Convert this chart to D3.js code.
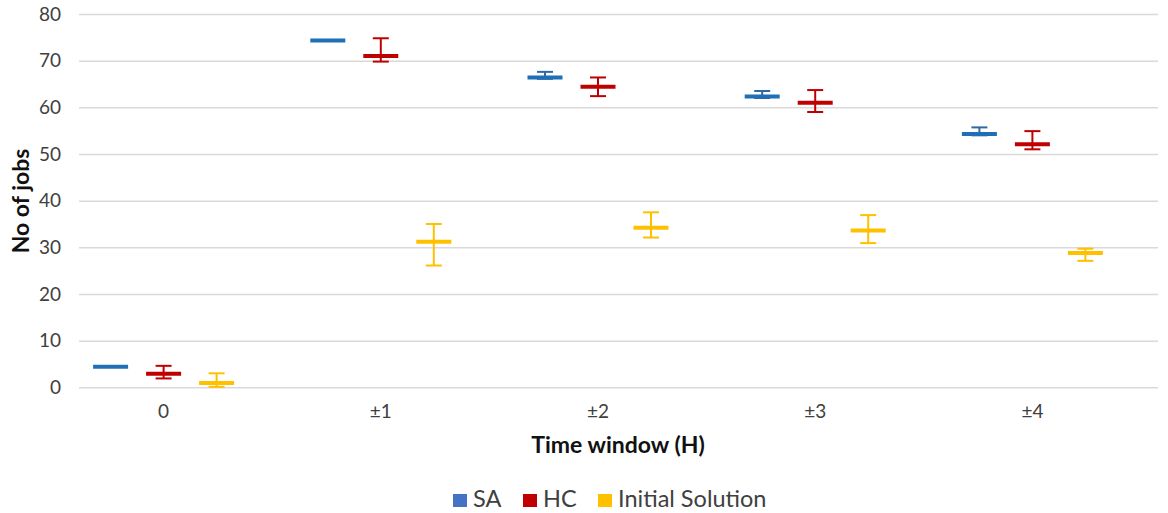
<!DOCTYPE html>
<html>
<head>
<meta charset="utf-8">
<script src="https://cdn.jsdelivr.net/npm/d3@7"></script>
<style>
  html, body { margin: 0; padding: 0; background: #fff; }
  svg { display: block; font-family: Lato, "Open Sans", sans-serif; }
</style>
</head>
<body>
<svg id="chart" width="1168" height="513"></svg>
<script>
// Time windows on the x axis
const categories = ["0", "±1", "±2", "±3", "±4"];
const seriesNames = ["SA", "HC", "Initial Solution"];
const yTicks = [0, 10, 20, 30, 40, 50, 60, 70, 80];

// Number of scheduled jobs: mean with upper / lower whisker ends
const saMean = [4.4, 74.3, 66.4, 62.3, 54.3];
const saHigh = [4.4, 74.3, 67.6, 63.5, 55.7];
const saLow  = [4.4, 74.3, 66.1, 62.0, 54.0];

const hcMean = [2.9, 71.0, 64.4, 61.0, 52.1];
const hcHigh = [4.6, 74.8, 66.4, 63.7, 54.9];
const hcLow  = [1.9, 69.8, 62.4, 59.0, 51.0];

const isMean = [0.9, 31.2, 34.2, 33.6, 28.8];
const isHigh = [3.0, 35.0, 37.5, 36.9, 29.7];
const isLow  = [0.1, 26.1, 32.1, 30.9, 27.1];

const markColors  = { "SA": "#1f6fb7", "HC": "#c00000", "Initial Solution": "#ffc000" };
const whiskColors = { "SA": "#2e6aa3", "HC": "#c00000", "Initial Solution": "#ffc000" };
const legendColors = { "SA": "#4472c4", "HC": "#c00000", "Initial Solution": "#ffc000" };

const seriesData = [
  { name: "SA", mean: saMean, high: saHigh, low: saLow },
  { name: "HC", mean: hcMean, high: hcHigh, low: hcLow },
  { name: "Initial Solution", mean: isMean, high: isHigh, low: isLow }
];

const svg = d3.select("#chart");

const gridLeft = 79, gridRight = 1158;

const x = d3.scaleBand().domain(categories).range([55, 1141]).padding(0);
const sub = d3.scalePoint().domain(seriesNames).range([-53, 53]);
const y = d3.scaleLinear().domain([0, 80]).range([387.3, 14]);

// Horizontal gridlines and value labels
const yAxis = svg.append("g")
  .attr("transform", `translate(${gridLeft},0)`)
  .call(d3.axisLeft(y).tickValues(yTicks).tickSize(-(gridRight - gridLeft)).tickPadding(18).tickFormat(d3.format("d")));
yAxis.select(".domain").remove();
yAxis.selectAll(".tick line").attr("stroke", "#d9d9d9").attr("stroke-width", 1.5);
yAxis.selectAll(".tick text").attr("fill", "#404040").style("font-size", "19px").style("font-family", "Lato, sans-serif");

// Category labels
const xAxis = svg.append("g")
  .attr("transform", `translate(0,404)`)
  .call(d3.axisBottom(x).tickSize(0).tickPadding(0));
xAxis.select(".domain").remove();
xAxis.selectAll(".tick text").attr("fill", "#404040").attr("dy", "0.71em").style("font-size", "19px").style("font-family", "Lato, sans-serif");

// Axis titles
svg.append("text")
  .attr("transform", "translate(29,201) rotate(-90)")
  .attr("text-anchor", "middle")
  .style("font-size", "23px").style("font-weight", "bold")
  .attr("fill", "#111")
  .text("No of jobs");

svg.append("text")
  .attr("x", 618).attr("y", 453)
  .attr("text-anchor", "middle")
  .style("font-size", "23px").style("font-weight", "bold")
  .attr("fill", "#111")
  .text("Time window (H)");

// Marks: a thick horizontal bar at the mean plus a capped whisker
const markW = 35, capW = 16;
seriesData.forEach(s => {
  const g = svg.append("g").attr("class", "series");
  const pts = categories.map((c, i) => ({
    cx: x(c) + x.bandwidth() / 2 + sub(s.name),
    mean: s.mean[i], high: s.high[i], low: s.low[i]
  }));
  const withWhisker = pts.filter(d => d.high !== d.low);
  g.selectAll("line.stem").data(withWhisker).join("line")
    .attr("x1", d => d.cx).attr("x2", d => d.cx)
    .attr("y1", d => y(d.high)).attr("y2", d => y(d.low))
    .attr("stroke", whiskColors[s.name]).attr("stroke-width", 2);
  g.selectAll("line.capHi").data(withWhisker).join("line")
    .attr("x1", d => d.cx - capW / 2).attr("x2", d => d.cx + capW / 2)
    .attr("y1", d => y(d.high)).attr("y2", d => y(d.high))
    .attr("stroke", whiskColors[s.name]).attr("stroke-width", 2);
  g.selectAll("line.capLo").data(withWhisker).join("line")
    .attr("x1", d => d.cx - capW / 2).attr("x2", d => d.cx + capW / 2)
    .attr("y1", d => y(d.low)).attr("y2", d => y(d.low))
    .attr("stroke", whiskColors[s.name]).attr("stroke-width", 2);
  g.selectAll("line.mean").data(pts).join("line")
    .attr("x1", d => d.cx - markW / 2).attr("x2", d => d.cx + markW / 2)
    .attr("y1", d => y(d.mean)).attr("y2", d => y(d.mean))
    .attr("stroke", markColors[s.name]).attr("stroke-width", 4);
});

// Legend
const legendItems = [
  { name: "SA", x: 453 },
  { name: "HC", x: 523 },
  { name: "Initial Solution", x: 598 }
];
const legend = svg.append("g");
legendItems.forEach(it => {
  legend.append("rect")
    .attr("x", it.x).attr("y", 494).attr("width", 14).attr("height", 13)
    .attr("fill", legendColors[it.name]);
  legend.append("text")
    .attr("x", it.x + 20).attr("y", 507)
    .style("font-size", "23.5px")
    .attr("fill", "#404040")
    .text(it.name);
});
</script>
</body>
</html>
